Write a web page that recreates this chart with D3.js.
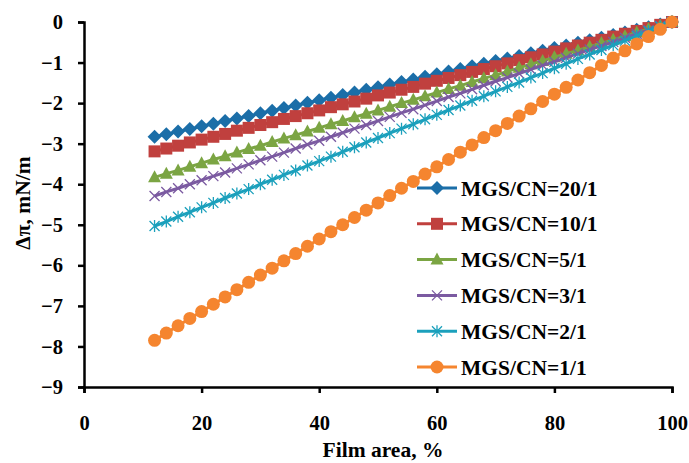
<!DOCTYPE html>
<html>
<head>
<meta charset="utf-8">
<script src="https://cdn.jsdelivr.net/npm/d3@7"></script>
<style>
  body { margin: 0; background: #fff; }
  text { font-family: "Liberation Serif", "Times New Roman", serif; font-weight: bold; }
</style>
</head>
<body>
<div id="chart-area"></div>
<script>
// Film area, % (x values shared by all series)
var filmArea = d3.range(12, 101, 2);

var labels = ["MGS/CN=20/1", "MGS/CN=10/1", "MGS/CN=5/1", "MGS/CN=3/1", "MGS/CN=2/1", "MGS/CN=1/1"];

var mgs20 = [-2.83,-2.77,-2.70,-2.64,-2.57,-2.51,-2.44,-2.38,-2.32,-2.25,-2.19,-2.12,-2.06,-1.99,-1.93,
    -1.87,-1.80,-1.74,-1.67,-1.61,-1.54,-1.48,-1.42,-1.35,-1.29,-1.22,-1.16,-1.09,-1.03,-0.96,
    -0.90,-0.84,-0.77,-0.71,-0.64,-0.58,-0.51,-0.45,-0.39,-0.32,-0.26,-0.19,-0.13,-0.06,0];
var mgs10 = [-3.19,-3.12,-3.05,-2.97,-2.90,-2.83,-2.76,-2.68,-2.61,-2.54,-2.47,-2.39,-2.32,-2.25,-2.18,
    -2.10,-2.03,-1.96,-1.89,-1.81,-1.74,-1.67,-1.60,-1.52,-1.45,-1.38,-1.31,-1.23,-1.16,-1.09,
    -1.02,-0.94,-0.87,-0.80,-0.73,-0.65,-0.58,-0.51,-0.44,-0.36,-0.29,-0.22,-0.15,-0.07,0];
var mgs5 = [-3.83,-3.74,-3.66,-3.57,-3.48,-3.39,-3.31,-3.22,-3.13,-3.05,-2.96,-2.87,-2.79,-2.70,-2.61,
    -2.52,-2.44,-2.35,-2.26,-2.18,-2.09,-2.00,-1.92,-1.83,-1.74,-1.65,-1.57,-1.48,-1.39,-1.31,
    -1.22,-1.13,-1.04,-0.96,-0.87,-0.78,-0.70,-0.61,-0.52,-0.44,-0.35,-0.26,-0.17,-0.09,0];
var mgs3 = [-4.29,-4.19,-4.10,-4.00,-3.90,-3.80,-3.71,-3.61,-3.51,-3.41,-3.32,-3.22,-3.12,-3.02,-2.93,
    -2.83,-2.73,-2.63,-2.54,-2.44,-2.34,-2.24,-2.15,-2.05,-1.95,-1.85,-1.76,-1.66,-1.56,-1.46,
    -1.37,-1.27,-1.17,-1.07,-0.98,-0.88,-0.78,-0.68,-0.59,-0.49,-0.39,-0.29,-0.20,-0.10,0];
var mgs2 = [-5.03,-4.92,-4.80,-4.69,-4.57,-4.46,-4.34,-4.23,-4.12,-4.00,-3.89,-3.77,-3.66,-3.54,-3.43,
    -3.32,-3.20,-3.09,-2.97,-2.86,-2.74,-2.63,-2.52,-2.40,-2.29,-2.17,-2.06,-1.94,-1.83,-1.71,
    -1.60,-1.49,-1.37,-1.26,-1.14,-1.03,-0.91,-0.80,-0.69,-0.57,-0.46,-0.34,-0.23,-0.11,0];
var mgs1 = [-7.85,-7.67,-7.49,-7.31,-7.14,-6.96,-6.78,-6.60,-6.42,-6.24,-6.07,-5.89,-5.71,-5.53,-5.35,
    -5.17,-5.00,-4.82,-4.64,-4.46,-4.28,-4.10,-3.93,-3.75,-3.57,-3.39,-3.21,-3.03,-2.85,-2.68,
    -2.50,-2.32,-2.14,-1.96,-1.78,-1.61,-1.43,-1.25,-1.07,-0.89,-0.71,-0.54,-0.36,-0.18,0];

var xTicks = [0, 20, 40, 60, 80, 100];
var yTicks = [0, -1, -2, -3, -4, -5, -6, -7, -8, -9];

var seriesValues = [mgs20, mgs10, mgs5, mgs3, mgs2, mgs1];
var colors = ["#1b6ea8", "#c0403e", "#7ba543", "#7b5aa1", "#1ba0bc", "#f5852f"];
var markers = ["diamond", "square", "triangle", "cross", "star", "circle"];

var margin = { left:84, right:17, top:22, bottom:76 },
    width = 689 - margin.left - margin.right,
    height = 463 - margin.top - margin.bottom;

var svg = d3.select("#chart-area")
    .append("svg")
    .attr("width", 689)
    .attr("height", 463);
var g = svg.append("g")
    .attr("transform", "translate(" + margin.left + "," + margin.top + ")");

// Scales
var x = d3.scaleLinear().domain([0, 100]).range([0, width]);
var y = d3.scaleLinear().domain([-9, 0]).range([height, 0]);

// Marker drawing
function drawMarker(sel, type, color) {
    if (type == "diamond") {
        sel.append("path").attr("d", "M0,-7L7,0L0,7L-7,0Z").attr("fill", color);
    } else if (type == "square") {
        sel.append("rect").attr("x", -6).attr("y", -6).attr("width", 12).attr("height", 12).attr("fill", color);
    } else if (type == "triangle") {
        sel.append("path").attr("d", "M0,-7L6.5,5L-6.5,5Z").attr("fill", color);
    } else if (type == "cross") {
        sel.append("path").attr("d", "M-5,-5L5,5M-5,5L5,-5").attr("stroke", color).attr("stroke-width", 1.3);
    } else if (type == "star") {
        sel.append("path").attr("d", "M-5,-5L5,5M-5,5L5,-5M0,-6L0,6").attr("stroke", color).attr("stroke-width", 1.3);
    } else {
        sel.append("circle").attr("r", 6.5).attr("fill", color);
    }
}

var line = d3.line()
    .x(function(d) { return x(d[0]); })
    .y(function(d) { return y(d[1]); });

seriesValues.forEach(function(vals, i) {
    var pts = filmArea.map(function(a, j) { return [a, vals[j]]; });
    var sg = g.append("g");
    sg.append("path")
        .datum(pts)
        .attr("fill", "none")
        .attr("stroke", colors[i])
        .attr("stroke-width", 3)
        .attr("d", line);
    sg.selectAll(".m")
        .data(pts)
        .enter().append("g")
        .attr("transform", function(d) { return "translate(" + x(d[0]) + "," + y(d[1]) + ")"; })
        .each(function() { drawMarker(d3.select(this), markers[i], colors[i]); });
});

// X-axis
var xAxis = g.append("g")
    .attr("transform", "translate(0," + height + ")")
    .call(d3.axisBottom(x).tickValues(xTicks).tickSize(6).tickPadding(22));
// Y-axis
var yAxis = g.append("g")
    .call(d3.axisLeft(y).tickValues(yTicks).tickSize(6).tickPadding(15));

[xAxis, yAxis].forEach(function(ax) {
    ax.select(".domain").attr("stroke", "#000").attr("stroke-width", 2.5);
    ax.selectAll(".tick line").attr("stroke", "#000").attr("stroke-width", 2.5);
    ax.selectAll(".tick text")
        .attr("font-family", "Liberation Serif")
        .attr("font-weight", "bold")
        .attr("font-size", "20.5px")
        .attr("fill", "#000");
});

// Labels
g.append("text")
    .attr("x", 383 - margin.left)
    .attr("y", 457 - margin.top)
    .attr("text-anchor", "middle")
    .attr("font-size", "21.5px")
    .text("Film area, %");
g.append("text")
    .attr("transform", "rotate(-90)")
    .attr("x", -(203 - margin.top))
    .attr("y", 30 - margin.left)
    .attr("text-anchor", "middle")
    .attr("font-size", "21.5px")
    .text("\u0394\u03c0, mN/m");

// Legend
var legend = svg.append("g").attr("transform", "translate(417,188)");
labels.forEach(function(lab, i) {
    var row = legend.append("g").attr("transform", "translate(0," + (i * 35.8) + ")");
    row.append("line")
        .attr("x1", 0).attr("x2", 40)
        .attr("stroke", colors[i]).attr("stroke-width", 3);
    var mk = row.append("g").attr("transform", "translate(20,0)");
    drawMarker(mk, markers[i], colors[i]);
    row.append("text")
        .attr("x", 44)
        .attr("y", 7.5)
        .attr("font-size", "21.5px")
        .text(lab);
});
</script>
</body>
</html>
